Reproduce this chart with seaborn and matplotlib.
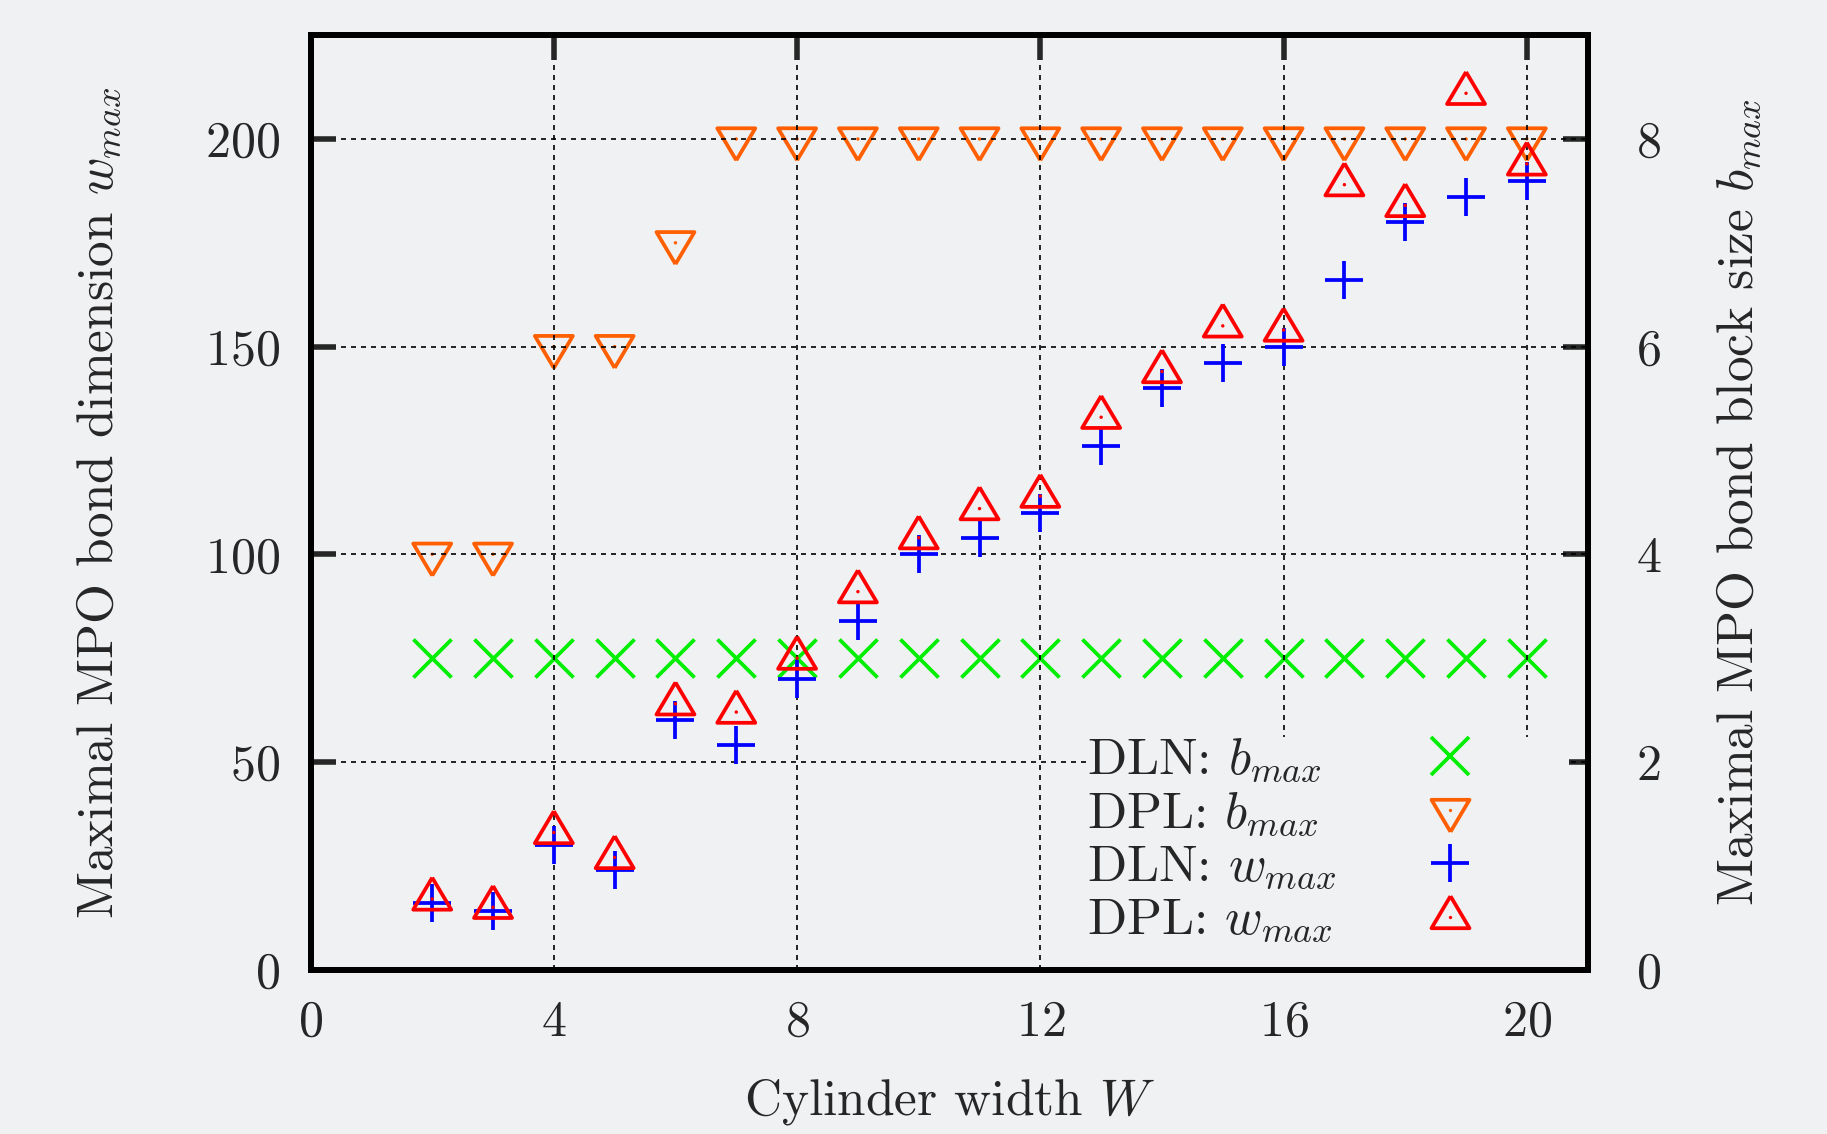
import matplotlib
matplotlib.use("Agg")
import matplotlib.pyplot as plt
from matplotlib.lines import Line2D
from matplotlib.markers import MarkerStyle
from matplotlib.patches import Rectangle
import seaborn as sns

# data
W = list(range(2, 21))
dln_b = [3] * 19
dpl_b = [4, 4, 6, 6, 7] + [8] * 14
dln_w = [16, 14, 30, 24, 60, 54, 70, 84, 100, 104, 110, 126, 140, 146, 150, 166, 180, 186, 190]
dpl_w = [17, 15, 33, 27, 64, 62, 75, 91, 104, 111, 114, 133, 144, 155, 154, 189, 184, 211, 194]

xticks = [0, 4, 8, 12, 16, 20]
yticks_w = [0, 50, 100, 150, 200]
yticks_b = [0, 2, 4, 6, 8]

bg = "#f0f1f3"
c_green = "#00ee00"
c_orange = "#ff5f00"
c_blue = "#0000ff"
c_red = "#ff0000"

sns.set_style("white")
plt.rcParams["font.family"] = ["cmr10", "DejaVu Serif"]
plt.rcParams["mathtext.fontset"] = "cm"
plt.rcParams["axes.formatter.use_mathtext"] = True
fs = 36
fs_lab = 37

# gnuplot style triangles: data point at the centroid
tri_up = MarkerStyle([(0, 21.3), (-19, -10.7), (19, -10.7), (0, 21.3)])
tri_dn = MarkerStyle([(0, -21.3), (-19, 10.7), (19, 10.7), (0, -21.3)])
ms_tri = 30.7   # pt
ms_x = 27.4
lw_m = 2.7

fig = plt.figure(figsize=(18.27, 11.34), dpi=100, facecolor=bg)
ax = fig.add_axes([0.170, 0.145, 0.699, 0.824])
ax2 = ax.twinx()
ax.set_zorder(2)
ax.patch.set_visible(False)
ax2.set_facecolor(bg)

# b_max on the right axis
sns.scatterplot(x=W, y=dln_b, ax=ax2, marker="x", s=ms_x**2, color=c_green, linewidth=lw_m)
sns.scatterplot(x=W, y=dpl_b, ax=ax2, marker=tri_dn, s=ms_tri**2, color=c_orange,
                facecolor="none", edgecolor=c_orange, linewidth=lw_m)
sns.scatterplot(x=W, y=dpl_b, ax=ax2, marker="o", s=6, color=c_orange, edgecolor="none", linewidth=0)

# w_max on the left axis
sns.scatterplot(x=W, y=dln_w, ax=ax, marker="+", s=ms_x**2, color=c_blue, linewidth=lw_m, zorder=3)
sns.scatterplot(x=W, y=dpl_w, ax=ax, marker=tri_up, s=ms_tri**2, color=c_red,
                facecolor="none", edgecolor=c_red, linewidth=lw_m, zorder=3)
sns.scatterplot(x=W, y=dpl_w, ax=ax, marker="o", s=6, color=c_red, edgecolor="none", linewidth=0, zorder=3)

ax.set_xlim(0, 21)
ax.set_ylim(0, 225)
ax2.set_ylim(0, 9)
ax.set_xticks(xticks)
ax.set_yticks(yticks_w)
ax2.set_yticks(yticks_b)

ax.grid(True, color="black", linestyle=(0, (3, 3)), linewidth=1.2)
ax2.grid(False)

for a in (ax, ax2):
    for s in a.spines.values():
        s.set_linewidth(4.3)
        s.set_color("black")
ax.tick_params(axis="x", direction="in", length=18, width=4, top=True, labelsize=fs, pad=22)
ax.tick_params(axis="y", direction="in", length=18, width=4, right=False, labelsize=fs, pad=22)
ax2.tick_params(axis="y", direction="in", length=18, width=4, labelsize=fs, pad=35)
ax2.tick_params(axis="x", bottom=False, top=False, labelbottom=False)

ax.set_xlabel(r"Cylinder width $W$", fontsize=fs_lab)
ax.set_ylabel(r"Maximal MPO bond dimension $w_{max}$", fontsize=fs_lab)
ax2.set_ylabel(r"Maximal MPO bond block size $b_{max}$", fontsize=fs_lab)
ax.xaxis.set_label_coords(0.5, -0.115)
ax.yaxis.set_label_coords(-0.146, 0.5)
ax2.yaxis.set_label_coords(1.100, 0.5)

# opaque key area, hides the grid like gnuplot's key
ax.add_patch(Rectangle((0.608, 0.0), 0.377, 0.249, transform=ax.transAxes,
                       facecolor=bg, edgecolor="none", zorder=1.8))


def tri_handle(mk, col):
    return (Line2D([], [], linestyle="none", marker=mk, markersize=ms_tri,
                   markerfacecolor="none", markeredgecolor=col, markeredgewidth=lw_m),
            Line2D([], [], linestyle="none", marker="o", markersize=2.4,
                   markerfacecolor=col, markeredgecolor="none"))


handles = [
    Line2D([], [], linestyle="none", marker="x", markersize=ms_x, color=c_green, markeredgewidth=lw_m),
    tri_handle(tri_dn, c_orange),
    Line2D([], [], linestyle="none", marker="+", markersize=ms_x, color=c_blue, markeredgewidth=lw_m),
    tri_handle(tri_up, c_red),
]
labels = [r"DLN: $b_{max}$", r"DPL: $b_{max}$", r"DLN: $w_{max}$", r"DPL: $w_{max}$"]
leg = ax.legend(handles, labels, loc="lower right", bbox_to_anchor=(0.916, 0.026),
                markerfirst=False, frameon=False, fontsize=fs_lab, handlelength=1.2,
                handletextpad=1.6, labelspacing=0.12, borderpad=0.0, borderaxespad=0.0)
leg.set_zorder(5)

# left-align the key texts (matplotlib right-aligns them when markerfirst=False)
fig.canvas.draw()
widths = [t.get_window_extent().width for t in leg.get_texts()]
for t, w in zip(leg.get_texts(), widths):
    t.set_x(-(max(widths) - w))

fig.savefig("out.png", dpi=100, facecolor=bg)
